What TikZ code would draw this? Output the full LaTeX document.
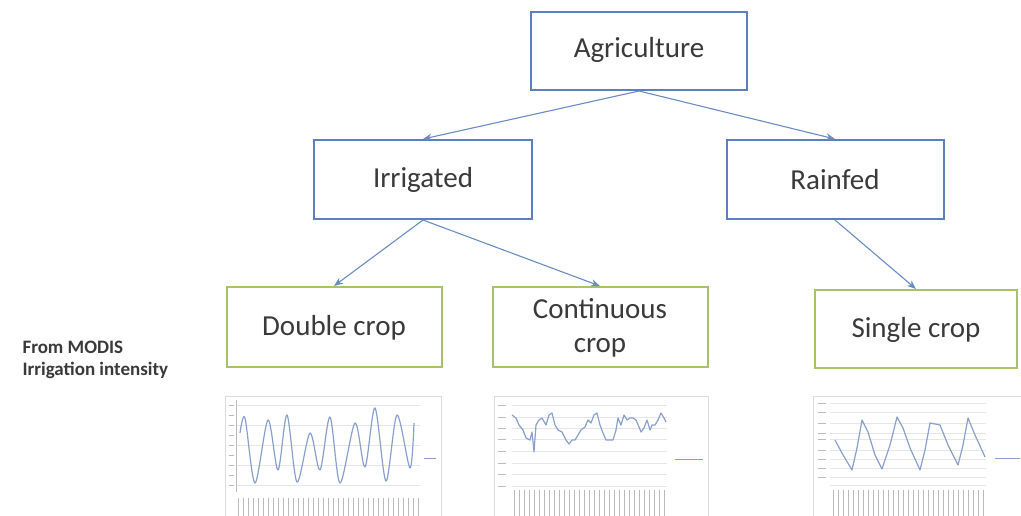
\documentclass[tikz,border=0pt]{standalone}
\usepackage{fontspec}
\setmainfont{Carlito}
\usetikzlibrary{arrows.meta}
\definecolor{bbox}{HTML}{5B80BE}
\definecolor{gbox}{HTML}{A9C26A}
\definecolor{arr}{HTML}{6A8CC4}
\definecolor{txt}{HTML}{3A3A3A}
\definecolor{plotc}{HTML}{8AA0CC}
\definecolor{gridc}{HTML}{E6E6E6}
\definecolor{framec}{HTML}{DCDCDC}
\definecolor{labc}{HTML}{BBBBBB}
\tikzset{
  bluebox/.style={draw=bbox,line width=2pt,fill=white},
  greenbox/.style={draw=gbox,line width=2pt,fill=white},
  boxtext/.style={text=txt,font=\fontsize{29}{34}\selectfont,align=center},
  conn/.style={draw=arr,line width=1.1pt,-{Stealth[length=9pt,width=7pt]}},
  frame/.style={draw=framec,line width=0.6pt},
  gridl/.style={draw=gridc,line width=0.6pt},
  plotl/.style={draw=plotc,line width=1.2pt,line join=round},
  labl/.style={draw=labc,line width=0.8pt},
}
\begin{document}
\begin{tikzpicture}[x=1pt,y=-1pt]
\useasboundingbox (0,0) rectangle (1021,516);
% boxes
\path[bluebox] (531,12) rectangle (747,90);
\node[boxtext] (agri) at (639,50) {Agriculture};
\coordinate (agriS) at (639,91);
\path[bluebox] (314,140) rectangle (532,219);
\node[boxtext] (irr) at (423,180) {Irrigated};
\coordinate (irrN) at (423,139); \coordinate (irrS) at (423,220);
\path[bluebox] (727,140) rectangle (944,219);
\node[boxtext] (rain) at (835,180) {Rainfed};
\coordinate (rainN) at (835,139); \coordinate (rainS) at (835,220);
\path[greenbox] (227,287) rectangle (442,367);
\node[boxtext] (dbl) at (334,328) {Double crop};
\coordinate (dblN) at (334,286);
\path[greenbox] (493,287) rectangle (708,367);
\node[boxtext] (cont) at (600,328) {Continuous\\crop};
\coordinate (contN) at (600,286);
\path[greenbox] (815,290) rectangle (1017,368);
\node[boxtext] (sgl) at (916,330) {Single crop};
\coordinate (sglN) at (916,289);
% connectors
\draw[conn] (agriS) -- (irrN);
\draw[conn] (agriS) -- (rainN);
\draw[conn] (irrS) -- (dblN);
\draw[conn] (irrS) -- (contN);
\draw[conn] (rainS) -- (sglN);
% side label
\node[anchor=west,text=txt,font=\bfseries\fontsize{19}{22}\selectfont,align=left] (modis) at (19,360) {From MODIS\\Irrigation intensity};
% chart 1
\draw[frame] (225,396) rectangle (441,516);
\foreach \y in {405,425,445,465,485} \draw[gridl] (236,\y) -- (420,\y);
\draw[labc,line width=0.6pt] (236,400) -- (236,492);
\foreach \y in {405,415,425,435,445,455,465,475,485} \draw[labl] (229,\y) -- (234,\y);
\foreach \x in {238,243,...,418} \draw[labl] (\x,498) -- (\x,516);
\draw[plotl] plot[smooth,tension=0.5] coordinates {(240,433) (245,418) (255,483) (268,420) (278,470) (287,415) (297,482) (310,433) (320,470) (330,417) (340,483) (355,423) (365,467) (375,408) (386,481) (397,415) (410,468) (414,423)};
\draw[plotc,line width=0.8pt] (424,458) -- (436,458);
% chart 2
\draw[frame] (494,396) rectangle (708,516);
\foreach \y in {405,417,428,439,451,463,474,486} \draw[gridl] (512,\y) -- (667,\y);
\foreach \y in {405,417,428,439,451,463,474,486} \draw[labl] (498,\y) -- (506,\y);
\foreach \x in {514,519,...,664} \draw[labl] (\x,490) -- (\x,516);
\draw[plotl] plot coordinates {(512,415) (516,418) (519,425) (523,430) (526,438) (530,440) (532,432) (534,452) (536,425) (539,420) (542,418) (546,425) (549,415) (552,413) (555,425) (558,430) (562,432) (566,440) (569,444) (572,440) (575,440) (578,435) (581,430) (585,427) (588,420) (591,423) (594,415) (597,413) (600,425) (603,433) (606,440) (610,440) (613,440) (616,430) (618,418) (621,425) (624,415) (627,420) (630,418) (633,418) (636,420) (639,427) (641,432) (644,428) (647,420) (650,430) (652,425) (655,425) (658,420) (661,413) (664,418) (666,422)};
\draw[plotc,line width=0.8pt] (675,459) -- (703,459);
% chart 3
\draw[frame] (813,396) rectangle (1021,516);
\foreach \y in {403,412,423,433,439,450,459,468,477,485} \draw[gridl] (830,\y) -- (986,\y);
\foreach \y in {403,412,423,433,439,450,459,468,477} \draw[labl] (818,\y) -- (826,\y);
\foreach \x in {833,838,...,985} \draw[labl] (\x,490) -- (\x,516);
\draw[plotl] plot coordinates {(835,440) (843,455) (852,470) (857,448) (862,420) (868,432) (875,455) (882,469) (890,445) (897,417) (903,428) (910,448) (920,470) (925,450) (930,423) (940,425) (948,445) (958,465) (963,445) (968,418) (975,435) (985,457)};
\draw[plotc,line width=0.8pt] (995,458) -- (1020,458);
\end{tikzpicture}
\end{document}
